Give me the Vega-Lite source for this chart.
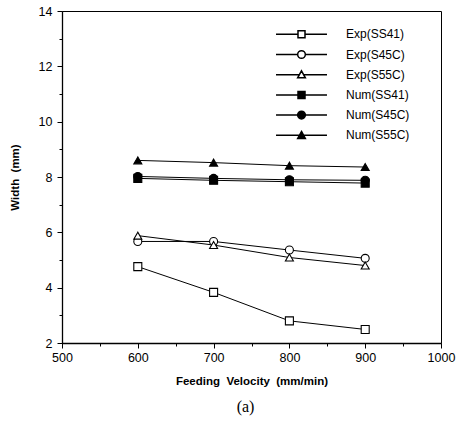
{
  "$schema": "https://vega.github.io/schema/vega-lite/v6.json",
  "autosize": {"type": "none"},
  "padding": {"left": 62, "top": 11, "right": 15, "bottom": 86},
  "width": 379,
  "height": 332,
  "background": "white",
  "config": {
    "view": {"stroke": "black", "strokeWidth": 1},
    "font": "Liberation Sans",
    "axis": {"grid": false, "domainColor": "black", "domainWidth": 1.3, "tickColor": "black", "labelColor": "black", "titleColor": "black", "labelFont": "Liberation Sans", "titleFont": "Liberation Sans", "labelFontSize": 12.5, "titleFontSize": 11.5, "titleFontWeight": "bold"}
  },
  "title": {"text": "(a)", "orient": "bottom", "anchor": "middle", "font": "Liberation Serif", "fontSize": 16, "fontWeight": "normal", "color": "black", "offset": 12, "dx": -6},
  "data": {"values": [
    {"series": "Exp(SS41)", "x": 600, "y": 4.76},
    {"series": "Exp(SS41)", "x": 700, "y": 3.83},
    {"series": "Exp(SS41)", "x": 800, "y": 2.8},
    {"series": "Exp(SS41)", "x": 900, "y": 2.49},
    {"series": "Exp(S45C)", "x": 600, "y": 5.67},
    {"series": "Exp(S45C)", "x": 700, "y": 5.67},
    {"series": "Exp(S45C)", "x": 800, "y": 5.36},
    {"series": "Exp(S45C)", "x": 900, "y": 5.06},
    {"series": "Exp(S55C)", "x": 600, "y": 5.88},
    {"series": "Exp(S55C)", "x": 700, "y": 5.54},
    {"series": "Exp(S55C)", "x": 800, "y": 5.09},
    {"series": "Exp(S55C)", "x": 900, "y": 4.8},
    {"series": "Num(SS41)", "x": 600, "y": 7.95},
    {"series": "Num(SS41)", "x": 700, "y": 7.88},
    {"series": "Num(SS41)", "x": 800, "y": 7.83},
    {"series": "Num(SS41)", "x": 900, "y": 7.78},
    {"series": "Num(S45C)", "x": 600, "y": 8.02},
    {"series": "Num(S45C)", "x": 700, "y": 7.95},
    {"series": "Num(S45C)", "x": 800, "y": 7.9},
    {"series": "Num(S45C)", "x": 900, "y": 7.88},
    {"series": "Num(S55C)", "x": 600, "y": 8.6},
    {"series": "Num(S55C)", "x": 700, "y": 8.52},
    {"series": "Num(S55C)", "x": 800, "y": 8.41},
    {"series": "Num(S55C)", "x": 900, "y": 8.36}
  ]},
  "encoding": {
    "x": {"field": "x", "type": "quantitative", "scale": {"domain": [500, 1000], "nice": false},
      "axis": {"title": "Feeding\u00a0\u00a0Velocity\u00a0\u00a0(mm/min)", "values": [500, 550, 600, 650, 700, 750, 800, 850, 900, 950, 1000],
        "labelExpr": "datum.value % 100 === 0 ? datum.label : ''", "format": "d",
        "tickSize": {"condition": {"test": "datum.value % 100 === 0", "value": 5}, "value": 3},
        "labelPadding": 3, "titlePadding": 12, "labelFlush": false, "labelOverlap": false}},
    "y": {"field": "y", "type": "quantitative", "scale": {"domain": [2, 14], "nice": false},
      "axis": {"title": "Width\u00a0\u00a0(mm)", "values": [2, 3, 4, 5, 6, 7, 8, 9, 10, 11, 12, 13, 14],
        "labelExpr": "datum.value % 2 === 0 ? datum.label : ''",
        "tickSize": {"condition": {"test": "datum.value % 2 === 0", "value": 5}, "value": 3},
        "labelPadding": 5, "titlePadding": 18, "labelFlush": false, "labelOverlap": false}}
  },
  "layer": [
    {
      "mark": {"type": "line", "color": "black", "strokeWidth": 1},
      "encoding": {"detail": {"field": "series"}}
    },
    {
      "mark": {"type": "point", "filled": true, "stroke": "black", "strokeWidth": 1.1, "size": 64, "opacity": 1},
      "encoding": {
        "shape": {"field": "series", "type": "nominal", "legend": null,
          "scale": {"domain": ["Exp(SS41)", "Exp(S45C)", "Exp(S55C)", "Num(SS41)", "Num(S45C)", "Num(S55C)"],
            "range": ["square", "circle", "triangle-up", "square", "circle", "triangle-up"]}},
        "fill": {"field": "series", "type": "nominal", "legend": null,
          "scale": {"domain": ["Exp(SS41)", "Exp(S45C)", "Exp(S55C)", "Num(SS41)", "Num(S45C)", "Num(S55C)"],
            "range": ["white", "white", "white", "black", "black", "black"]}}
      }
    },
    {
      "transform": [{"filter": "datum.x < 0"}],
      "mark": {"type": "point", "strokeWidth": 1, "size": 196, "opacity": 1},
      "encoding": {
        "shape": {"field": "series", "type": "nominal",
          "scale": {"domain": ["Exp(SS41)", "Exp(S45C)", "Exp(S55C)", "Num(SS41)", "Num(S45C)", "Num(S55C)"],
            "range": [
              "M-3.64,0H-0.5M0.5,0H3.64M-0.5,-0.5H0.5V0.5H-0.5Z",
              "M-3.64,0H-0.55M0.55,0H3.64M-0.55,0A0.55,0.55,0,1,1,0.55,0A0.55,0.55,0,1,1,-0.55,0Z",
              "M-3.64,0H-0.3M0.3,0H3.64M0,-0.55L0.55,0.45H-0.55Z",
              "M-3.64,0H-0.5M0.5,0H3.64M-0.5,-0.5H0.5V0.5H-0.5Z",
              "M-3.64,0H-0.55M0.55,0H3.64M-0.55,0A0.55,0.55,0,1,1,0.55,0A0.55,0.55,0,1,1,-0.55,0Z",
              "M-3.64,0H-0.3M0.3,0H3.64M0,-0.55L0.55,0.45H-0.55Z"
            ]},
          "legend": {"title": null, "orient": "none", "legendX": 231.5, "legendY": 15.3, "padding": 0,
            "labelOffset": 36.5, "labelFontSize": 12, "labelFont": "Liberation Sans", "labelColor": "black",
            "rowPadding": 5.2, "symbolSize": 196}},
        "fill": {"field": "series", "type": "nominal",
          "scale": {"domain": ["Exp(SS41)", "Exp(S45C)", "Exp(S55C)", "Num(SS41)", "Num(S45C)", "Num(S55C)"],
            "range": ["white", "white", "white", "black", "black", "black"]}},
        "stroke": {"field": "series", "type": "nominal",
          "scale": {"domain": ["Exp(SS41)", "Exp(S45C)", "Exp(S55C)", "Num(SS41)", "Num(S45C)", "Num(S55C)"],
            "range": ["black", "black", "black", "black", "black", "black"]}}
      }
    }
  ],
  "resolve": {"scale": {"shape": "independent", "fill": "independent", "stroke": "independent"}}
}
